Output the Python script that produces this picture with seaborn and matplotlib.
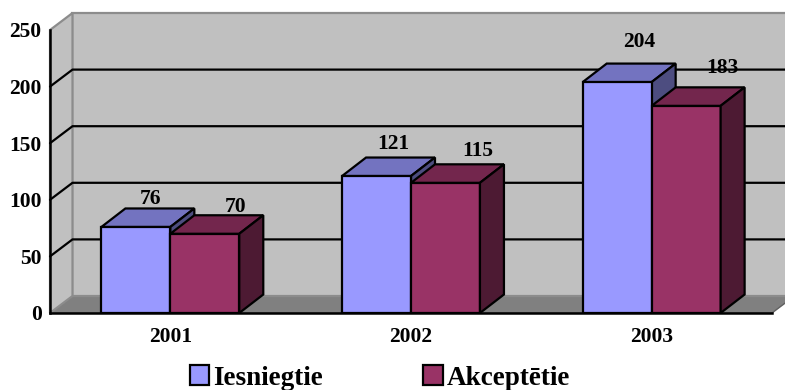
import matplotlib
matplotlib.use("Agg")
import matplotlib.pyplot as plt
import seaborn as sns
import pandas as pd
from matplotlib.patches import Polygon, Patch
from matplotlib.lines import Line2D

# ---- data ----
years = ["2001", "2002", "2003"]
series = ["Iesniegtie", "Akceptētie"]
iesniegtie = [76, 121, 204]
akceptetie = [70, 115, 183]
yticks = [0, 50, 100, 150, 200, 250]

# ---- styles ----
front_cols = ["#9999FF", "#993366"]
top_cols = ["#7373C0", "#73264D"]
side_cols = ["#4D4D80", "#4D1A33"]
wall_col = "#C0C0C0"
floor_col = "#808080"
FONT = ["Liberation Serif", "DejaVu Serif"]
FS = 15.5

sns.set_theme(style="white")
plt.rcParams["font.family"] = FONT
plt.rcParams["font.weight"] = "bold"
for k in ["text.color", "axes.labelcolor", "xtick.color", "ytick.color"]:
    plt.rcParams[k] = "black"

W, H = 785, 390
fig = plt.figure(figsize=(W / 100, H / 100), dpi=100)
ax_l, ax_b, ax_w, ax_h = 50, 77, 722, 283
ax = fig.add_axes([ax_l / W, ax_b / H, ax_w / W, ax_h / H])

df = pd.DataFrame({
    "Gads": years * 2,
    "Sērija": [series[0]] * 3 + [series[1]] * 3,
    "Vērtība": iesniegtie + akceptetie,
})
sns.barplot(data=df, x="Gads", y="Vērtība", hue="Sērija", palette=front_cols,
            width=0.573, edgecolor="black", linewidth=1.6, saturation=1,
            legend=False, ax=ax)

ax.set_xlim(-0.5, 2.5)
ax.set_ylim(0, 250)
ax.patch.set_visible(False)

px_x = ax_w / 3.0          # pixels per category unit
px_y = ax_h / 250.0        # pixels per value unit
wdx, wdy = 22.5 / px_x, 17 / px_y   # wall depth in data units
bdx, bdy = 24 / px_x, 18.5 / px_y   # bar depth in data units

x0, x1 = -0.5, 2.5
top = 250
# floor
ax.add_patch(Polygon([(x0, 0), (x1, 0), (x1 + wdx, wdy), (x0 + wdx, wdy)],
                     closed=True, facecolor=floor_col, edgecolor="#606060",
                     linewidth=1.0, zorder=0.1, clip_on=False))
# back wall
ax.add_patch(Polygon([(x0 + wdx, wdy), (x1 + wdx, wdy), (x1 + wdx, top + wdy), (x0 + wdx, top + wdy)],
                     closed=True, facecolor=wall_col, edgecolor="#8C8C8C",
                     linewidth=1.6, zorder=0.1, clip_on=False))
# side wall
ax.add_patch(Polygon([(x0, 0), (x0 + wdx, wdy), (x0 + wdx, top + wdy), (x0, top)],
                     closed=True, facecolor=wall_col, edgecolor="#8C8C8C",
                     linewidth=1.6, zorder=0.15, clip_on=False))
# grid lines
for v in yticks[1:-1]:
    ax.add_line(Line2D([x0, x0 + wdx, x1 + wdx], [v, v + wdy, v + wdy],
                       color="black", linewidth=1.6, zorder=0.3, clip_on=False))

# 3D faces of bars
for si, cont in enumerate(ax.containers):
    for bar in cont:
        bx = bar.get_x()
        bw = bar.get_width()
        v = bar.get_height()
        z = 0.9 if si == 0 else 1.1
        bar.set_zorder(1.0)
        ax.add_patch(Polygon([(bx, v), (bx + bw, v), (bx + bw + bdx, v + bdy), (bx + bdx, v + bdy)],
                             closed=True, facecolor=top_cols[si], edgecolor="black",
                             linewidth=1.6, zorder=z, clip_on=False))
        ax.add_patch(Polygon([(bx + bw, 0), (bx + bw + bdx, bdy), (bx + bw + bdx, v + bdy), (bx + bw, v)],
                             closed=True, facecolor=side_cols[si], edgecolor="black",
                             linewidth=1.6, zorder=z, clip_on=False))
        # perspective-like placement of labels (pixel offsets grow with height)
        off_x = (10 + 0.06 * v) if si == 0 else (27 + 0.05 * v)
        off_y = 20 + 0.1 * v
        ax.annotate(f"{v:.0f}", (bx + bw / 2, v), xytext=(off_x, off_y),
                    textcoords="offset pixels", ha="center", va="center",
                    fontsize=FS, fontweight="bold", family=FONT, color="black", zorder=5)

# axes styling
for s in ["top", "right"]:
    ax.spines[s].set_visible(False)
ax.spines["left"].set_bounds(0, 250)
for s in ["left", "bottom"]:
    ax.spines[s].set_color("black")
    ax.spines[s].set_linewidth(1.8)
    ax.spines[s].set_zorder(3)
ax.set_yticks(yticks)
ax.set_yticklabels([str(t) for t in yticks], fontsize=FS, fontweight="bold", family=FONT, color="black")
ax.tick_params(axis="y", direction="out", length=5, width=1.6, color="black", pad=1)
ax.set_xticks([0, 1, 2])
ax.set_xticklabels(years, fontsize=FS, fontweight="bold", family=FONT, color="black")
ax.set_xticks([-0.5, 0.5, 1.5, 2.5], minor=True)
ax.tick_params(axis="x", which="major", length=0, pad=10)
ax.tick_params(axis="x", which="minor", direction="out", length=5, width=1.6, color="black")
ax.set_xlabel("")
ax.set_ylabel("")
ax.grid(False)

handles = [Patch(facecolor=front_cols[i], edgecolor="black", linewidth=1.6) for i in range(2)]
leg = fig.legend(handles, series, loc="center", bbox_to_anchor=(380 / W, 1 - 378 / H),
                 ncol=2, frameon=False, prop={"family": FONT, "weight": "bold", "size": 19.5},
                 handlelength=0.72, handleheight=0.72, handletextpad=0.15, columnspacing=3.7,
                 borderpad=0, borderaxespad=0)
for t in leg.get_texts():
    t.set_color("black")

fig.savefig("out.png", dpi=100)
